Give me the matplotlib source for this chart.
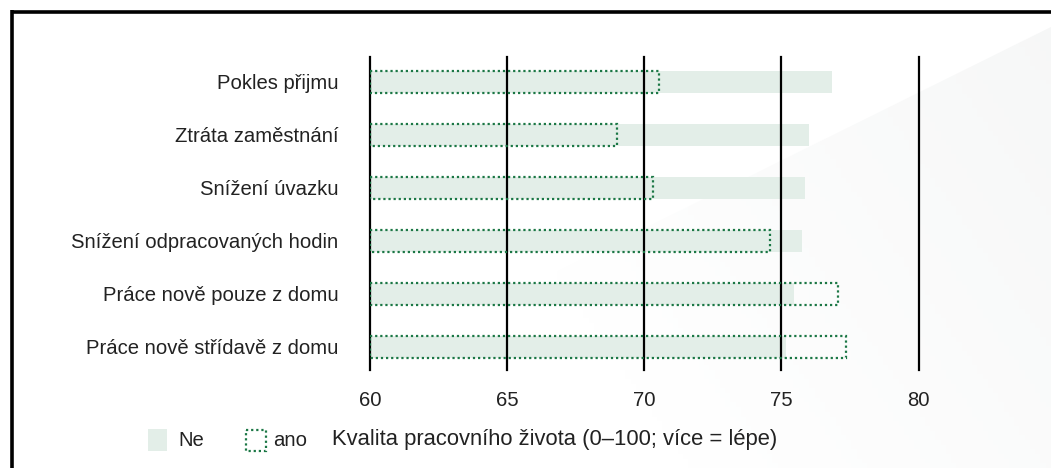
import matplotlib
matplotlib.use("Agg")
import matplotlib.pyplot as plt
from matplotlib.patches import Rectangle, Polygon
from matplotlib.lines import Line2D
import numpy as np

plt.rcParams['font.family'] = ['Liberation Sans', 'DejaVu Sans']

# data
kategorie = ["Pokles přijmu", "Ztráta zaměstnání", "Snížení úvazku",
             "Snížení odpracovaných hodin", "Práce nově pouze z domu",
             "Práce nově střídavě z domu"]
ne = [76.85, 76.0, 75.85, 75.75, 75.45, 75.15]
ano = [70.55, 69.0, 70.3, 74.6, 77.05, 77.35]
x_ticks = [60, 65, 70, 75, 80]
legenda = ["Ne", "ano"]
osa_popis = "Kvalita pracovního života (0–100; více = lépe)"

ne_barva = "#e3eee8"
ano_barva = "#1b7745"
text_barva = "#222222"
fs = 14.6

W, H = 1051, 468
fig = plt.figure(figsize=(W / 100, H / 100), dpi=100, facecolor="white")

# pozadi - jemny diagonalni prechod vpravo
bg = fig.add_axes([0, 0, 1, 1], zorder=-10)
bg.set_xlim(0, W)
bg.set_ylim(H, 0)
bg.axis("off")
gx, gy = np.meshgrid(np.linspace(0, 1, 200), np.linspace(0, 1, 100))
grad = np.clip((gx - 0.5) * 1.3 + (0.5 - gy) * 0.4, 0, 1)
im = bg.imshow(grad, extent=[0, W, H, 0], cmap=matplotlib.colors.LinearSegmentedColormap.from_list(
    "bg", ["#ffffff", "#f5f6f6"]), vmin=0, vmax=1, aspect="auto", zorder=0)
clip = Polygon([[W, 27], [520, 290], [520, H], [W, H]], closed=True,
               transform=bg.transData, facecolor="none", edgecolor="none")
bg.add_patch(clip)
im.set_clip_path(clip)
# ramecek nahore a vlevo
bg.add_line(Line2D([11.5, W], [11.7, 11.7], color="black", lw=2.6, solid_capstyle="butt"))
bg.add_line(Line2D([11.7, 11.7], [10, H], color="black", lw=2.6, solid_capstyle="butt"))

# hlavni graf
ax = fig.add_axes([370.3 / W, 98 / H, 548.2 / W, 313 / H])
ax.patch.set_alpha(0)
ypos = np.arange(len(kategorie))
bh = 0.415

ax.barh(ypos, [v - 60 for v in ne], left=60, height=bh, color=ne_barva, zorder=2)
ax.barh(ypos, [v - 60 for v in ano], left=60, height=bh, facecolor="none",
        edgecolor=ano_barva, linewidth=1.6, linestyle=(0, (1, 1.3)), zorder=4)

for t in x_ticks:
    ax.axvline(t, color="black", lw=1.6, zorder=3, clip_on=False)

ax.set_xlim(60, 80)
ax.set_ylim(len(kategorie) - 1 + 0.44, -0.47)
ax.set_xticks(x_ticks)
ax.set_xticklabels([str(t) for t in x_ticks])
ax.set_yticks(ypos)
ax.set_yticklabels(kategorie)
ax.tick_params(axis="x", length=0, pad=15, labelsize=fs, labelcolor=text_barva)
ax.tick_params(axis="y", length=0, pad=23, labelsize=fs, labelcolor=text_barva)
for s in ax.spines.values():
    s.set_visible(False)

# legenda
bg.add_patch(Rectangle((148, 429), 19, 22, facecolor=ne_barva, edgecolor="none"))
bg.text(178, 440, legenda[0], fontsize=fs, color=text_barva, va="center", ha="left")
bg.add_patch(Rectangle((246, 429.5), 20, 21, facecolor="none", edgecolor=ano_barva,
                       lw=1.6, linestyle=(0, (1, 1.3))))
bg.text(273, 440, legenda[1], fontsize=fs, color=text_barva, va="center", ha="left")
bg.text(332, 440, osa_popis, fontsize=15.8, color=text_barva, va="center", ha="left")

fig.savefig("out.png", dpi=100, facecolor="white")
